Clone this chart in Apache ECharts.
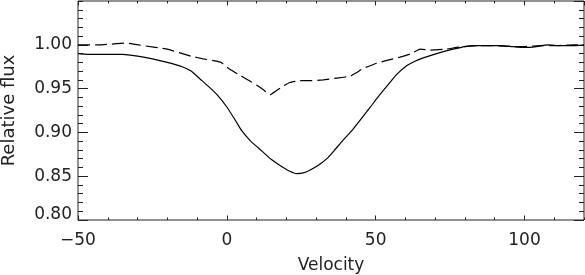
<!DOCTYPE html>
<html>
<head>
<meta charset="utf-8">
<script src="https://cdn.jsdelivr.net/npm/echarts@6/dist/echarts.min.js"></script>
<style>html,body{margin:0;padding:0;background:#fff}#c{width:585px;height:275px}</style>
</head>
<body>
<div id="c"></div>
<script>
// Solid profile
const solidVel  = [-50,-45,-40,-35,-30,-25,-20,-15,-12,-9,-6,-3,0,3,5,8,10,12,15,18,21,23.5,26,28,31,33.6,36,38,39,42,45,48,51.4,54.8,57,60.4,63,66,70.5,76,80,84,88,92,96,100,104,108,112,116,120];
const solidFlux = [0.990,0.989,0.989,0.989,0.987,0.984,0.980,0.975,0.970,0.961,0.952,0.942,0.929,0.913,0.902,0.890,0.884,0.878,0.869,0.862,0.856,0.853,0.854,0.857,0.863,0.870,0.879,0.887,0.891,0.902,0.915,0.928,0.943,0.957,0.966,0.976,0.981,0.985,0.990,0.995,0.998,0.999,0.999,0.999,0.998,0.997,0.998,1.000,0.999,0.999,1.000];
// Dashed profile
const dashVel  = [-50,-42,-34,-28,-20,-12,-8,-4.5,-2,1,4.5,8,10,12.5,14.5,16.8,19,21.2,24.6,28,32.4,37,41.4,43.5,45.8,50.3,54.8,58.2,62,64.9,68.2,73.8,77.2,84,90,96,100,106,110,116,120];
const dashFlux = [1.000,1.000,1.002,0.999,0.995,0.987,0.984,0.982,0.980,0.972,0.965,0.958,0.954,0.948,0.943,0.948,0.953,0.957,0.959,0.959,0.960,0.962,0.964,0.968,0.973,0.979,0.983,0.986,0.990,0.995,0.994,0.995,0.997,0.999,0.999,0.998,0.998,0.999,0.999,1.000,1.000];
// Axes
const xMin = -50, xMax = 120, xMajor = 50, xMinor = 10;
const yMin = 0.80, yMax = 1.05, yMajor = 0.05, yMinor = 0.01;
const xName = 'Velocity', yName = 'Relative flux';

const ink = '#222';
const font = 'DejaVu Sans';
function pairs(a, b) { return a.map((v, i) => [v, b[i]]); }

function xAx(pos, interval, len, labels) {
  return {
    type: 'value', min: xMin, max: xMax, interval: interval, position: pos,
    axisLine: { show: false, onZero: false },
    axisTick: { show: true, inside: true, length: len, lineStyle: { color: ink, width: 1 } },
    axisLabel: labels ? { show: true, color: ink, fontFamily: font, fontSize: 17, margin: 12, showMaxLabel: false,
                          formatter: v => (v < 0 ? '\u2212' + Math.abs(v) : String(v)) } : { show: false },
    splitLine: { show: false },
    name: labels ? xName : '', nameLocation: 'middle', nameGap: 37,
    nameTextStyle: { color: ink, fontFamily: font, fontSize: 17 }
  };
}
function yAx(pos, interval, len, labels) {
  return {
    type: 'value', min: yMin, max: yMax, interval: interval, position: pos,
    axisLine: { show: false, onZero: false },
    axisTick: { show: true, inside: true, length: len, lineStyle: { color: ink, width: 1 } },
    axisLabel: labels ? { show: true, color: ink, fontFamily: font, fontSize: 17, margin: 6, showMaxLabel: false,
                          formatter: v => (Math.abs(v - yMin) < 1e-9 ? '{lo|' + v.toFixed(2) + '}' : v.toFixed(2)),
                          rich: { lo: { color: ink, fontFamily: font, fontSize: 17, padding: [0, 0, 10, 0] } } } : { show: false },
    splitLine: { show: false },
    name: labels ? yName : '', nameLocation: 'middle', nameGap: 60,
    nameTextStyle: { color: ink, fontFamily: font, fontSize: 18 }
  };
}

const chart = echarts.init(document.getElementById('c'), null, { renderer: 'canvas' });
chart.setOption({
  animation: false,
  backgroundColor: '#fff',
  grid: { show: true, borderColor: ink, borderWidth: 1, backgroundColor: 'transparent',
          left: 78, right: 1, top: 1, bottom: 55, containLabel: false, outerBoundsMode: 'none' },
  xAxis: [
    xAx('bottom', xMajor, 4.5, true),
    xAx('bottom', xMinor, 2.5, false),
    xAx('top', xMajor, 4.5, false),
    xAx('top', xMinor, 2.5, false)
  ],
  yAxis: [
    yAx('left', yMajor, 10, true),
    yAx('left', yMinor, 5, false),
    yAx('right', yMajor, 10, false),
    yAx('right', yMinor, 5, false)
  ],
  series: [
    { type: 'line', xAxisIndex: 0, yAxisIndex: 0, data: pairs(solidVel, solidFlux), showSymbol: false, symbol: 'none',
      smooth: 0.2, lineStyle: { color: '#000', width: 1.2 } },
    { type: 'line', xAxisIndex: 0, yAxisIndex: 0, data: pairs(dashVel, dashFlux), showSymbol: false, symbol: 'none',
      smooth: 0.1, lineStyle: { color: '#000', width: 1.2, type: [12, 5] } }
  ]
});
</script>
</body>
</html>
